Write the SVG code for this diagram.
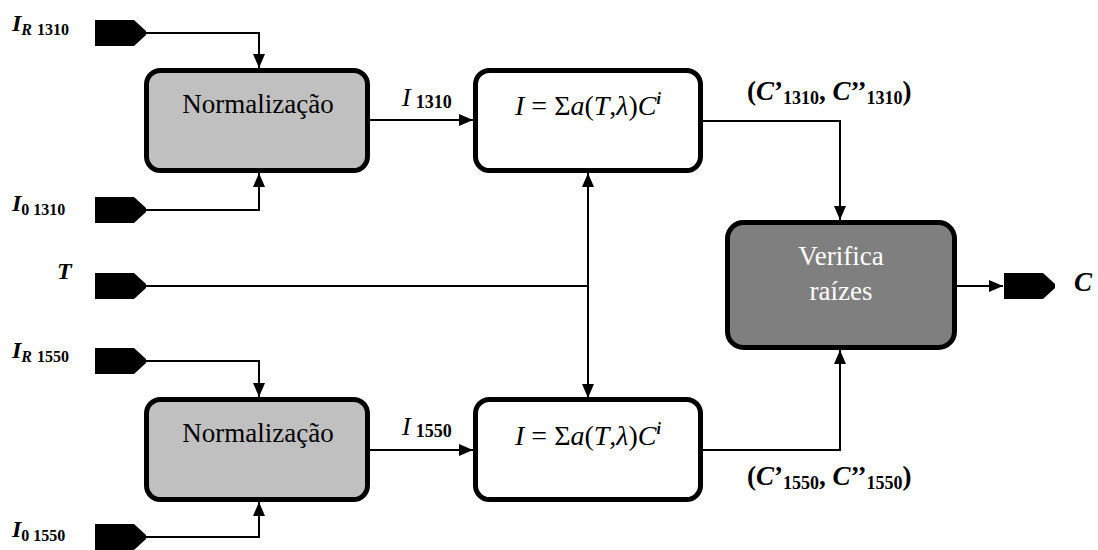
<svg xmlns="http://www.w3.org/2000/svg" width="1098" height="550" viewBox="0 0 1098 550">
  <style>
    .box { stroke: #000; stroke-width: 5; }
    .norm { fill: #c0c0c0; }
    .calc { fill: #fff; }
    .verif { fill: #7f7f7f; }
    .port { fill: #000; }
    .wire { fill: none; stroke: #000; stroke-width: 2; }
    .lbl { font-size: 24px; font-weight: bold; }
    .big { font-size: 27px; }
    .it { font-style: italic; }
    .sub { font-size: 16px; }
    .sub2 { font-size: 18px; }
    .title { font-size: 27px; text-anchor: middle; }
    .white { fill: #fff; }
    .eq { font-size: 28px; text-anchor: middle; }
    .sup { font-size: 16px; font-weight: bold; }
  </style>
  <defs>
    <marker id="arrow" viewBox="0 0 14 12" refX="14" refY="6" markerWidth="14" markerHeight="12" markerUnits="userSpaceOnUse" orient="auto">
      <path d="M0,0 L14,6 L0,12 Z" fill="#000"/>
    </marker>
    <!-- input/output terminal: flat left side, pointed right side -->
    <path id="term" d="M0,-13 H39 L51,-2 V2 L39,13 H0 Z"/>
  </defs>

  <rect width="1098" height="550" fill="#fff"/>

  <!-- connectors -->
  <g id="connectors" class="wire">
    <path d="M146,33 H259 V68" marker-end="url(#arrow)"/>
    <path d="M146,210 H259 V173" marker-end="url(#arrow)"/>
    <path d="M370,120 H473" marker-end="url(#arrow)"/>
    <path d="M146,361 H259 V397" marker-end="url(#arrow)"/>
    <path d="M146,537 H259 V502" marker-end="url(#arrow)"/>
    <path d="M370,450 H473" marker-end="url(#arrow)"/>
    <path d="M146,286 H588"/>
    <path d="M588,286 V173" marker-end="url(#arrow)"/>
    <path d="M588,286 V398" marker-end="url(#arrow)"/>
    <path d="M703,121 H840 V220" marker-end="url(#arrow)"/>
    <path d="M703,450 H840 V350" marker-end="url(#arrow)"/>
    <path d="M957,286 H1003" marker-end="url(#arrow)"/>
  </g>

  <!-- inputs -->
  <g id="in-IR1310">
    <use href="#term" class="port" x="95" y="33"/>
    <text font-family="Liberation Serif" class="lbl" x="12" y="31"><tspan class="it">I</tspan><tspan class="sub it" dy="4">R</tspan><tspan class="sub" dx="5">1310</tspan></text>
  </g>
  <g id="in-I01310">
    <use href="#term" class="port" x="95" y="210"/>
    <text font-family="Liberation Serif" class="lbl" x="12" y="211"><tspan class="it">I</tspan><tspan class="sub" dy="4">0 1310</tspan></text>
  </g>
  <g id="in-T">
    <use href="#term" class="port" x="95" y="286"/>
    <text font-family="Liberation Serif" class="lbl it" x="57" y="279">T</text>
  </g>
  <g id="in-IR1550">
    <use href="#term" class="port" x="95" y="361"/>
    <text font-family="Liberation Serif" class="lbl" x="12" y="358"><tspan class="it">I</tspan><tspan class="sub it" dy="4">R</tspan><tspan class="sub" dx="5">1550</tspan></text>
  </g>
  <g id="in-I01550">
    <use href="#term" class="port" x="95" y="537"/>
    <text font-family="Liberation Serif" class="lbl" x="12" y="537"><tspan class="it">I</tspan><tspan class="sub" dy="4">0 1550</tspan></text>
  </g>

  <!-- normalisation blocks -->
  <g id="norm-1310">
    <rect class="box norm" x="146.5" y="70.5" width="221" height="100" rx="14"/>
    <text font-family="Liberation Serif" class="title" x="258" y="113">Normalização</text>
  </g>
  <g id="norm-1550">
    <rect class="box norm" x="146.5" y="399.5" width="221" height="100" rx="14"/>
    <text font-family="Liberation Serif" class="title" x="258" y="442">Normalização</text>
  </g>

  <!-- intensity labels -->
  <g id="lbl-I1310">
    <text font-family="Liberation Serif" class="lbl" x="402" y="106"><tspan class="it" font-weight="normal" font-size="26">I</tspan><tspan class="sub2" dx="5" dy="2">1310</tspan></text>
  </g>
  <g id="lbl-I1550">
    <text font-family="Liberation Serif" class="lbl" x="402" y="435"><tspan class="it" font-weight="normal" font-size="26">I</tspan><tspan class="sub2" dx="5" dy="2">1550</tspan></text>
  </g>

  <!-- polynomial model blocks -->
  <g id="model-1310">
    <rect class="box calc" x="475.5" y="70.5" width="225" height="100" rx="14"/>
    <text font-family="Liberation Serif" class="eq" x="588" y="115"><tspan class="it">I</tspan> = Σ<tspan class="it">a</tspan>(<tspan class="it">T</tspan>,<tspan class="it">λ</tspan>)<tspan class="it">C</tspan><tspan class="sup it" dy="-11">i</tspan></text>
  </g>
  <g id="model-1550">
    <rect class="box calc" x="475.5" y="399.5" width="225" height="100" rx="14"/>
    <text font-family="Liberation Serif" class="eq" x="588" y="445"><tspan class="it">I</tspan> = Σ<tspan class="it">a</tspan>(<tspan class="it">T</tspan>,<tspan class="it">λ</tspan>)<tspan class="it">C</tspan><tspan class="sup it" dy="-11">i</tspan></text>
  </g>

  <!-- root pair labels -->
  <g id="lbl-C1310">
    <text font-family="Liberation Serif" class="lbl big" x="747" y="100">(<tspan class="it">C</tspan>’<tspan class="sub2" dy="4">1310</tspan><tspan dy="-4">, </tspan><tspan class="it">C</tspan>’’<tspan class="sub2" dy="4">1310</tspan><tspan dy="-4">)</tspan></text>
  </g>
  <g id="lbl-C1550">
    <text font-family="Liberation Serif" class="lbl big" x="747" y="485">(<tspan class="it">C</tspan>’<tspan class="sub2" dy="4">1550</tspan><tspan dy="-4">, </tspan><tspan class="it">C</tspan>’’<tspan class="sub2" dy="4">1550</tspan><tspan dy="-4">)</tspan></text>
  </g>

  <!-- root check block -->
  <g id="verify">
    <rect class="box verif" x="727.5" y="222.5" width="227" height="125" rx="16"/>
    <text font-family="Liberation Serif" class="title white" x="841" y="265">Verifica</text>
    <text font-family="Liberation Serif" class="title white" x="841" y="300">raízes</text>
  </g>

  <!-- output -->
  <g id="out-C">
    <use href="#term" class="port" x="1004" y="286"/>
    <text font-family="Liberation Serif" class="lbl big it" x="1074" y="291">C</text>
  </g>
</svg>
